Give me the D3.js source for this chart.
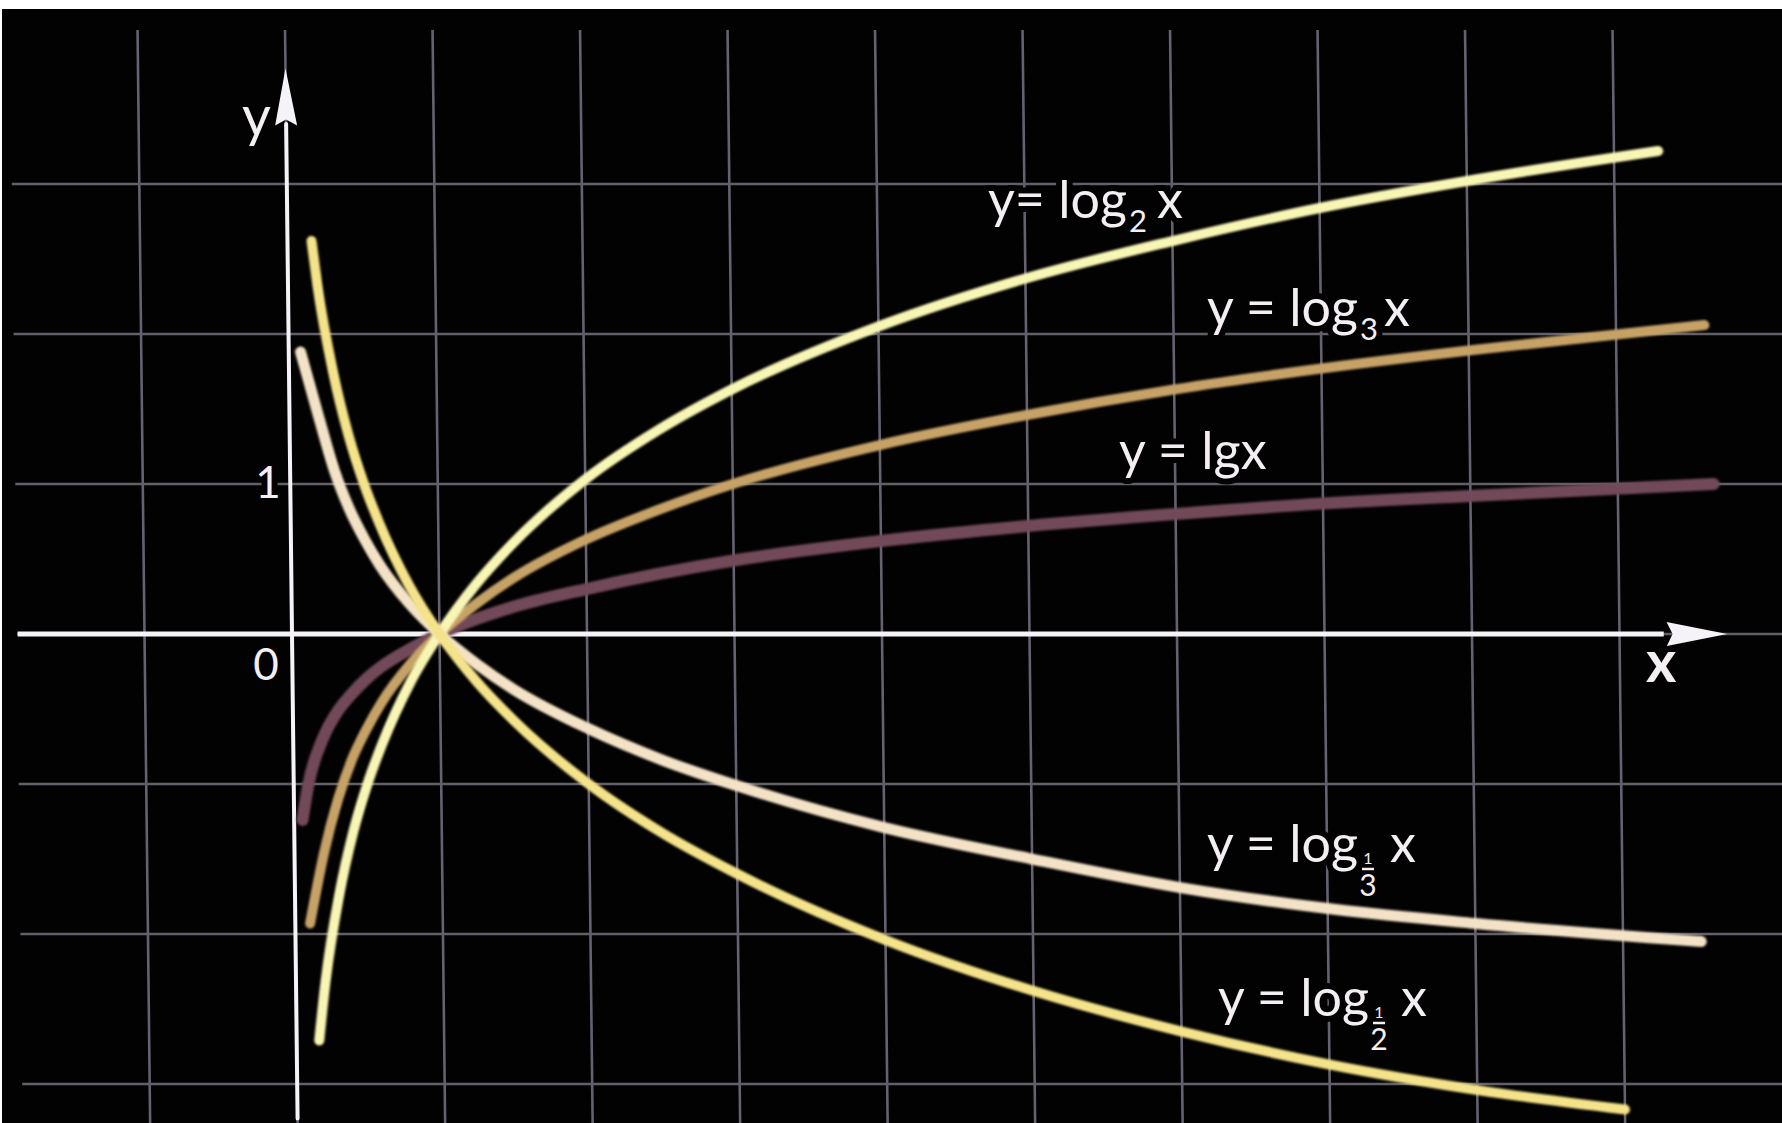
<!DOCTYPE html>
<html>
<head>
<meta charset="utf-8">
<script src="https://cdn.jsdelivr.net/npm/d3@7"></script>
<style>
  html, body { margin: 0; padding: 0; background: #ffffff; }
  svg { display: block; }
</style>
</head>
<body>
<svg id="chart"></svg>
<script>
// grid positions (data units)
var gridXs = [-1, 0, 1, 2, 3, 4, 5, 6, 7, 8, 9];
var gridYs = [-3, -2, -1, 0, 1, 2, 3];

// curves, values
var log2X = [0.153, 0.2, 0.3, 0.4, 0.5, 0.6, 0.8, 1, 1.25, 1.5, 2, 2.5, 3, 4, 5, 6, 7, 8, 9.3];
var log2Y = [-2.71, -2.32, -1.74, -1.32, -1, -0.74, -0.32, 0, 0.33, 0.6, 1.03, 1.36, 1.63, 2.05, 2.37, 2.62, 2.84, 3.02, 3.22];

var log3X = [0.1, 0.2, 0.3, 0.4, 0.5, 0.6, 0.8, 1, 1.25, 1.5, 2, 2.5, 3, 4, 5, 6, 7, 8, 9.6];
var log3Y = [-1.93, -1.46, -1.1, -0.83, -0.63, -0.46, -0.2, 0, 0.2, 0.37, 0.63, 0.83, 1, 1.26, 1.46, 1.63, 1.77, 1.89, 2.06];

var lgX = [0.057, 0.1, 0.2, 0.3, 0.4, 0.5, 0.6, 0.8, 1, 1.5, 2, 3, 4, 5, 6, 7, 8, 9.65];
var lgY = [-1.24, -1, -0.7, -0.52, -0.4, -0.3, -0.22, -0.1, 0, 0.18, 0.3, 0.49, 0.62, 0.72, 0.8, 0.87, 0.92, 1.0];

var log13X = [0.08, 0.2, 0.3, 0.4, 0.5, 0.6, 0.8, 1, 1.25, 1.5, 2, 2.5, 3, 4, 5, 6, 7, 8, 9.53];
var log13Y = [1.88, 1.44, 1.09, 0.83, 0.63, 0.46, 0.2, 0, -0.2, -0.37, -0.63, -0.84, -1.01, -1.29, -1.5, -1.69, -1.83, -1.93, -2.05];

var log12X = [0.163, 0.2, 0.3, 0.4, 0.5, 0.6, 0.8, 1, 1.25, 1.5, 2, 2.5, 3, 4, 5, 6, 7, 8, 9];
var log12Y = [2.62, 2.32, 1.74, 1.32, 1, 0.74, 0.32, 0, -0.32, -0.58, -1, -1.33, -1.6, -2.04, -2.38, -2.65, -2.87, -3.04, -3.17];

var curveNames = ["lg", "log3", "log2", "log13", "log12"];
var curveXs = [lgX, log3X, log2X, log13X, log12X];
var curveYs = [lgY, log3Y, log2Y, log13Y, log12Y];
var curveColors = ["#724a58", "#c6a266", "#f8f6b4", "#f3e2c6", "#f4e389"];
var curveWidths = [12, 10, 10, 11, 10];

var width = 1782;
var height = 1123;

var svg = d3.select("#chart")
  .attr("width", width)
  .attr("height", height);

// black board (white strip on top like the photo)
svg.append("rect")
  .attr("x", 2).attr("y", 9)
  .attr("width", width - 2).attr("height", height - 9)
  .attr("fill", "#030203");

var x = d3.scaleLinear().domain([0, 1]).range([292, 439.5]);
var y = d3.scaleLinear().domain([0, 1]).range([634, 484]);

// the photo leans slightly, skew around the x axis
var board = svg.append("g")
  .attr("transform", "translate(0,634) skewX(0.66) translate(0,-634)");

board.selectAll("line.gx")
  .data(gridXs)
  .enter()
  .append("line")
  .attr("class", "gx")
  .attr("x1", function(d) { return x(d); })
  .attr("x2", function(d) { return x(d); })
  .attr("y1", 30)
  .attr("y2", height)
  .attr("stroke", "#65616f")
  .attr("stroke-width", 2.6);

board.selectAll("line.gy")
  .data(gridYs)
  .enter()
  .append("line")
  .attr("class", "gy")
  .attr("x1", 17)
  .attr("x2", width + 10)
  .attr("y1", function(d) { return y(d); })
  .attr("y2", function(d) { return y(d); })
  .attr("stroke", "#625f69")
  .attr("stroke-width", 2.6);

// labels with a black halo that cuts the grid
var labelFont = "Lato, 'Open Sans', sans-serif";
var labels = svg.append("g")
  .attr("fill", "#f3eff3")
  .attr("font-family", labelFont)
  .attr("stroke", "#030203")
  .attr("stroke-width", 12)
  .attr("stroke-linejoin", "round")
  .attr("paint-order", "stroke");

function simpleLabel(px, py, head, sub, tail, subDx)
{
  var t = labels.append("text")
    .attr("x", px).attr("y", py)
    .attr("font-size", 52);
  t.append("tspan").text(head);
  if (sub != "")
  {
    t.append("tspan").text(sub).attr("font-size", 31).attr("dy", 14).attr("dx", 2);
    t.append("tspan").text(tail).attr("dy", -14).attr("dx", subDx);
  }
  else
  {
    t.append("tspan").text(tail);
  }
}

function fracLabel(px, py, head, num, den)
{
  var t = labels.append("text")
    .attr("x", px).attr("y", py)
    .attr("font-size", 52)
    .text(head);
  var w = t.node().getComputedTextLength();
  var cx = px + w + 10;
  labels.append("text")
    .attr("x", cx).attr("y", py + 2)
    .attr("text-anchor", "middle")
    .attr("font-size", 16)
    .attr("stroke-width", 6)
    .text(num);
  labels.append("line")
    .attr("x1", cx - 6).attr("x2", cx + 6)
    .attr("y1", py + 7).attr("y2", py + 7)
    .attr("stroke", "#f3eff3")
    .attr("stroke-width", 2.5);
  labels.append("text")
    .attr("x", cx).attr("y", py + 34)
    .attr("text-anchor", "middle")
    .attr("font-size", 30)
    .attr("stroke-width", 6)
    .text(den);
  labels.append("text")
    .attr("x", cx + 22).attr("y", py)
    .attr("font-size", 52)
    .text("x");
}

simpleLabel(988, 218, "y= log", "2", "x", 10);
simpleLabel(1207, 326, "y = log", "3", "x", 6);
simpleLabel(1119, 469, "y = lgx", "", "", 0);
fracLabel(1207, 862, "y = log", "1", "3");
fracLabel(1218, 1016, "y = log", "1", "2");

// axis numbers and names
labels.append("text")
  .attr("x", 266).attr("y", 680)
  .attr("text-anchor", "middle")
  .attr("font-size", 44)
  .text("0");
labels.append("text")
  .attr("x", 268).attr("y", 498)
  .attr("text-anchor", "middle")
  .attr("font-size", 44)
  .text("1");
labels.append("text")
  .attr("x", 242).attr("y", 136)
  .attr("font-size", 56)
  .text("y");
labels.append("text")
  .attr("x", 1646).attr("y", 682)
  .attr("font-size", 58)
  .attr("font-weight", 700)
  .text("x");

// axes
var axes = board.append("g");
axes.append("line")
  .attr("x1", x(-1.86)).attr("x2", x(9.3))
  .attr("y1", y(0)).attr("y2", y(0))
  .attr("stroke", "#f6f3f8")
  .attr("stroke-width", 5);
axes.append("path")
  .attr("d", "M" + x(9.73) + "," + y(0) +
             "L" + x(9.32) + "," + (y(0) - 12) +
             "L" + x(9.36) + "," + y(0) +
             "L" + x(9.32) + "," + (y(0) + 12) + "Z")
  .attr("fill", "#f6f3f8");
axes.append("line")
  .attr("x1", x(0)).attr("x2", x(0))
  .attr("y1", y(3.4)).attr("y2", y(-3.23))
  .attr("stroke", "#f6f3f8")
  .attr("stroke-width", 4)
  .attr("stroke-linecap", "round");
axes.append("path")
  .attr("d", "M" + x(0) + "," + y(3.77) +
             "L" + (x(0) - 11) + "," + y(3.39) +
             "L" + x(0) + "," + y(3.43) +
             "L" + (x(0) + 11) + "," + y(3.39) + "Z")
  .attr("fill", "#f6f3f8");

// curves
var line = d3.line()
  .x(function(d) { return x(d[0]); })
  .y(function(d) { return y(d[1]); })
  .curve(d3.curveMonotoneX);

var defs = svg.append("defs");
defs.append("filter").attr("id", "soft")
  .append("feGaussianBlur").attr("stdDeviation", 0.8);

board.selectAll("path.curve")
  .data(curveNames)
  .enter()
  .append("path")
  .attr("class", "curve")
  .attr("d", function(d, i)
  {
    return line(d3.zip(curveXs[i], curveYs[i]));
  })
  .attr("fill", "none")
  .attr("stroke", function(d, i) { return curveColors[i]; })
  .attr("stroke-width", function(d, i) { return curveWidths[i]; })
  .attr("stroke-linecap", "round")
  .attr("filter", "url(#soft)");
</script>
</body>
</html>
